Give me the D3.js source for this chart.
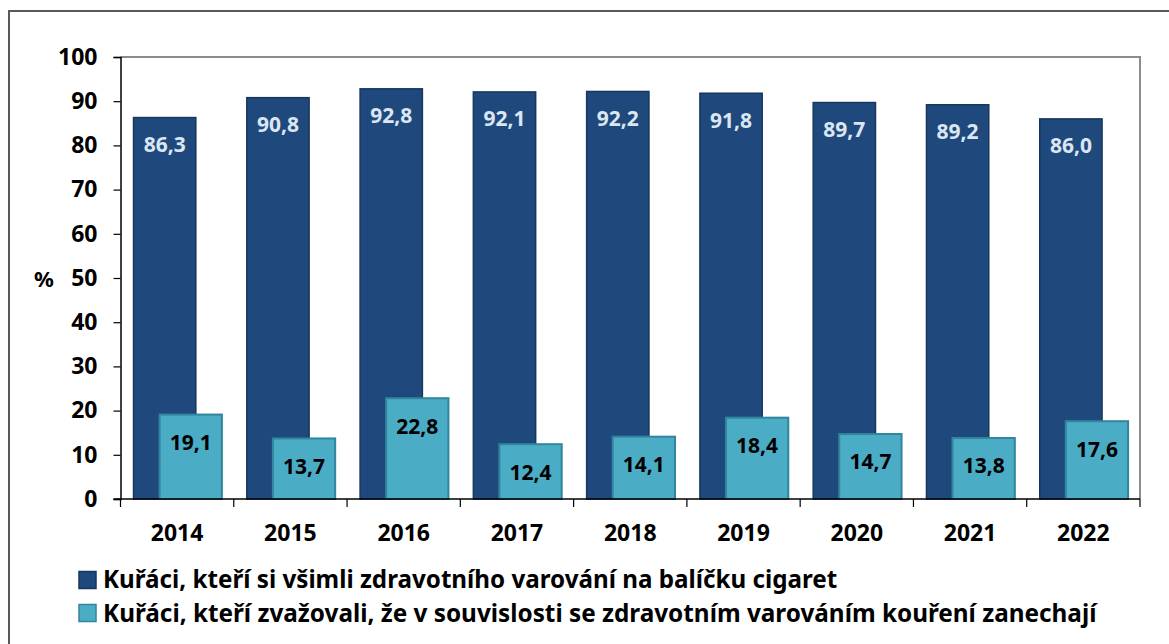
<!DOCTYPE html>
<html>
<head>
<meta charset="utf-8">
<script src="https://cdn.jsdelivr.net/npm/d3@7"></script>
<style>
  body { margin: 0; background: #fff; }
  svg { display: block; font-family: "Noto Sans", "Open Sans", sans-serif; font-weight: 700; }
</style>
</head>
<body>
<div id="chart"></div>
<script>
// data
const years = ["2014", "2015", "2016", "2017", "2018", "2019", "2020", "2021", "2022"];
const noticed = [86.3, 90.8, 92.8, 92.1, 92.2, 91.8, 89.7, 89.2, 86.0];
const considered = [19.1, 13.7, 22.8, 12.4, 14.1, 18.4, 14.7, 13.8, 17.6];
const yTicks = [0, 10, 20, 30, 40, 50, 60, 70, 80, 90, 100];
const seriesNames = [
  "Kuřáci, kteří si všimli zdravotního varování na balíčku cigaret",
  "Kuřáci, kteří zvažovali, že v souvislosti se zdravotním varováním kouření zanechají"
];

const width = 1169, height = 644;
const plot = { left: 120.5, top: 57, right: 1140, bottom: 499 };

const svg = d3.select("#chart").append("svg")
  .attr("width", width)
  .attr("height", height);

// outer frame (runs off right and bottom edges)
svg.append("rect")
  .attr("x", 9).attr("y", 11)
  .attr("width", 1200).attr("height", 700)
  .attr("fill", "none")
  .attr("stroke", "#595959")
  .attr("stroke-width", 2);

const x = d3.scaleBand().domain(years).range([plot.left, plot.right]);
const y = d3.scaleLinear().domain([0, 100]).range([plot.bottom, plot.top]);

// plot area border (grey top/right)
svg.append("path")
  .attr("d", `M${plot.left},${plot.top}H${plot.right}V${plot.bottom}`)
  .attr("fill", "none")
  .attr("stroke", "#8c8c8c")
  .attr("stroke-width", 2);

const fmt = v => v.toFixed(1).replace(".", ",");
const bw = x.bandwidth() * 0.55;
const off1 = x.bandwidth() * 0.115;
const off2 = x.bandwidth() * 0.345;

// dark bars
svg.append("g").selectAll("rect")
  .data(noticed)
  .join("rect")
  .attr("x", (d, i) => x(years[i]) + off1)
  .attr("y", d => y(d))
  .attr("width", bw)
  .attr("height", d => y(0) - y(d))
  .attr("fill", "#1f497d")
  .attr("stroke", "#17375e")
  .attr("stroke-width", 1.5);

svg.append("g").selectAll("text")
  .data(noticed)
  .join("text")
  .attr("x", (d, i) => x(years[i]) + off1 + bw / 2)
  .attr("y", d => y(d) + 27)
  .attr("dy", "0.35em")
  .attr("text-anchor", "middle")
  .attr("fill", "#dce6f2")
  .style("font-size", "21px")
  .text(fmt);

// light bars
svg.append("g").selectAll("rect")
  .data(considered)
  .join("rect")
  .attr("x", (d, i) => x(years[i]) + off2)
  .attr("y", d => y(d))
  .attr("width", bw)
  .attr("height", d => y(0) - y(d))
  .attr("fill", "#4bacc6")
  .attr("stroke", "#31859c")
  .attr("stroke-width", 2);

svg.append("g").selectAll("text")
  .data(considered)
  .join("text")
  .attr("x", (d, i) => x(years[i]) + off2 + bw / 2)
  .attr("y", d => y(d) + 28)
  .attr("dy", "0.35em")
  .attr("text-anchor", "middle")
  .attr("fill", "#000")
  .style("font-size", "21px")
  .text(fmt);

// y axis
const yAxis = svg.append("g")
  .attr("transform", `translate(${plot.left},0)`)
  .call(d3.axisLeft(y).tickValues(yTicks).tickSize(7).tickPadding(16));
yAxis.select(".domain").attr("stroke", "#000").attr("stroke-width", 1.5);
yAxis.selectAll(".tick line").attr("stroke", "#000").attr("stroke-width", 1.2);
yAxis.selectAll(".tick text")
  .attr("fill", "#000")
  .style("font-size", "23px")
  .style("font-family", "'Noto Sans', sans-serif")
  .style("font-weight", "700");

// x axis: ticks at band boundaries
const xAxis = svg.append("g")
  .attr("transform", `translate(0,${plot.bottom})`);
xAxis.append("line")
  .attr("x1", plot.left - 7).attr("x2", plot.right)
  .attr("stroke", "#000").attr("stroke-width", 1.5);
xAxis.selectAll(".xt")
  .data(years.concat(["end"]))
  .join("line")
  .attr("x1", (d, i) => i < years.length ? x(d) : plot.right)
  .attr("x2", (d, i) => i < years.length ? x(d) : plot.right)
  .attr("y1", 0).attr("y2", 8)
  .attr("stroke", "#000").attr("stroke-width", 1.2);
xAxis.selectAll(".xl")
  .data(years)
  .join("text")
  .attr("x", d => x(d) + x.bandwidth() / 2)
  .attr("y", 34)
  .attr("dy", "0.35em")
  .attr("text-anchor", "middle")
  .style("font-size", "23px")
  .text(d => d);

svg.append("text")
  .attr("x", 44).attr("y", 279)
  .attr("dy", "0.35em")
  .attr("text-anchor", "middle")
  .style("font-size", "22px")
  .text("%");

// legend
const legendColors = [["#1f497d", "#17375e"], ["#4bacc6", "#31859c"]];
const legendWidths = [735, 993];
const legend = svg.append("g");
seriesNames.forEach((name, i) => {
  const ly = 580 + i * 33;
  legend.append("rect")
    .attr("x", 79).attr("y", ly - 8.5)
    .attr("width", 17).attr("height", 17)
    .attr("fill", legendColors[i][0])
    .attr("stroke", legendColors[i][1])
    .attr("stroke-width", 1.5);
  const t = legend.append("text")
    .attr("x", 103).attr("y", ly)
    .attr("dy", "0.35em")
    .style("font-size", "22px")
    .text(name);
  // fit the line to the width it has in the original
  const w = t.node().getComputedTextLength();
  t.style("font-size", (22 * legendWidths[i] / w).toFixed(1) + "px");
});
</script>
</body>
</html>
